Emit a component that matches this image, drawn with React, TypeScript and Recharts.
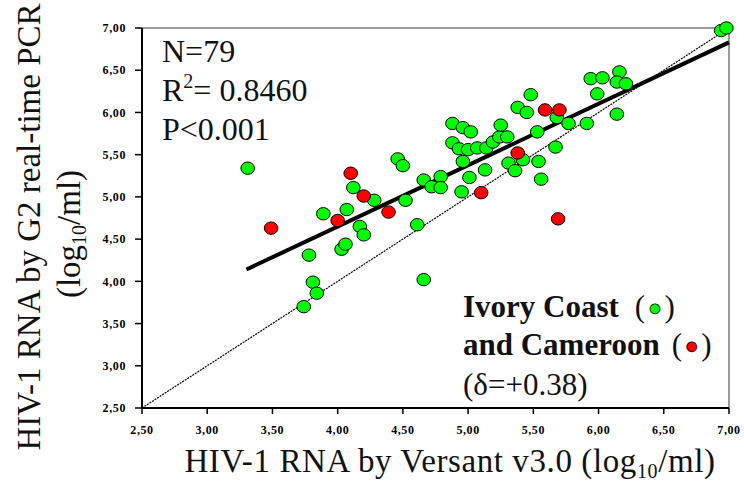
import { ReferenceLine, Scatter, ScatterChart, XAxis, YAxis } from 'recharts';

// Versant v3.0 (x) vs G2 real-time PCR (y), log10 copies/ml
const ivoryVersant = [
  3.31, 3.74, 3.81, 3.84, 3.78, 3.89, 4.03, 4.06, 4.07, 4.12, 4.17, 4.2, 4.28, 4.46, 4.5, 4.52, 4.61, 4.66, 4.66, 4.72,
  4.79, 4.79, 4.88, 4.96, 5.02, 4.88, 4.93, 5.0, 5.07, 5.14, 5.19, 5.24, 5.3, 5.25, 4.95, 5.01, 4.96, 5.13, 5.31, 5.36,
  5.42, 5.54, 5.56, 5.38, 5.45, 5.48, 5.53, 5.68, 5.67, 5.77, 5.91, 5.94, 6.03, 5.99, 6.16, 6.14, 6.21, 6.14, 6.94, 6.98,
];
const ivoryG2 = [
  5.34, 3.7, 3.99, 3.86, 4.31, 4.8, 4.38, 4.44, 4.85, 5.11, 4.65, 4.55, 4.96, 5.45, 5.37, 4.96, 4.67, 5.2, 4.02, 5.12,
  5.24, 5.11, 5.87, 5.82, 5.77, 5.64, 5.57, 5.56, 5.58, 5.58, 5.65, 5.71, 5.71, 5.85, 5.06, 5.23, 5.42, 5.32, 5.4, 5.31,
  5.44, 5.42, 5.21, 6.06, 6.0, 6.21, 5.77, 5.94, 5.59, 5.87, 5.87, 6.4, 6.41, 6.22, 6.48, 6.36, 6.34, 5.98, 6.97, 7.0,
];
const cameroonVersant = [3.49, 4.0, 4.1, 4.2, 4.39, 5.1, 5.38, 5.59, 5.7, 5.69];
const cameroonG2 = [4.63, 4.72, 5.28, 5.01, 4.82, 5.05, 5.52, 6.03, 6.03, 4.74];

// regression line and line of identity
const fitX = [3.3, 7.0];
const fitY = [4.14, 6.83];
const identity = [2.5, 7.0];

const ticks = [2.5, 3, 3.5, 4, 4.5, 5, 5.5, 6, 6.5, 7];
const tickLabels = ['2,50', '3,00', '3,50', '4,00', '4,50', '5,00', '5,50', '6,00', '6,50', '7,00'];

const ivory = ivoryVersant.map((x, i) => ({ x, y: ivoryG2[i] }));
const cameroon = cameroonVersant.map((x, i) => ({ x, y: cameroonG2[i] }));

const fmt = (v: number) => tickLabels[ticks.indexOf(v)] ?? String(v);
const tickStyle = {
  fill: '#000',
  fontSize: 12,
  fontWeight: 'bold',
  fontFamily: 'Liberation Serif',
  letterSpacing: 0.6,
};

const dot = (color: string) => (p: any) => (
  <ellipse cx={p.cx} cy={p.cy} rx={6.8} ry={6.2} fill={color} stroke="#000" strokeWidth={1} />
);

const serif = 'Liberation Serif, Times New Roman, serif';

export default function App() {
  return (
    <div style={{ position: 'absolute', left: 0, top: 0, width: 744, height: 485, background: '#fff' }}>
      <ScatterChart width={744} height={485} margin={{ top: 28, right: 15, left: 0, bottom: 0 }}>
        <XAxis
          type="number"
          dataKey="x"
          domain={[2.5, 7]}
          ticks={ticks}
          tickFormatter={fmt}
          height={77}
          tickSize={6}
          tickMargin={11}
          tick={tickStyle}
          axisLine={{ stroke: '#000', strokeWidth: 2 }}
          tickLine={{ stroke: '#000', strokeWidth: 1.5 }}
        />
        <YAxis
          type="number"
          dataKey="y"
          domain={[2.5, 7]}
          ticks={ticks}
          tickFormatter={fmt}
          width={142}
          tickSize={7}
          tickMargin={9}
          tick={tickStyle}
          axisLine={{ stroke: '#000', strokeWidth: 2 }}
          tickLine={{ stroke: '#000', strokeWidth: 1.5 }}
        />
        <ReferenceLine y={7} stroke="#9a9a9a" strokeWidth={2} />
        <ReferenceLine x={7} stroke="#9a9a9a" strokeWidth={2} />
        <Scatter data={ivory} shape={dot('#00ff00')} isAnimationActive={false} />
        <Scatter data={cameroon} shape={dot('#ff0000')} isAnimationActive={false} />
        <ReferenceLine
          segment={[{ x: identity[0], y: identity[0] }, { x: identity[1], y: identity[1] }]}
          stroke="#000"
          strokeWidth={1.2}
          strokeDasharray="2 1"
        />
        <ReferenceLine
          segment={[{ x: fitX[0], y: fitY[0] }, { x: fitX[1], y: fitY[1] }]}
          stroke="#000"
          strokeWidth={4}
        />
      </ScatterChart>
      <svg
        width={744}
        height={485}
        style={{ position: 'absolute', left: 0, top: 0, pointerEvents: 'none' }}
        fontFamily={serif}
        fill="#111"
      >
        <text x={162} y={62} fontSize={32}>N=79</text>
        <text x={162} y={101} fontSize={32}>
          R<tspan dy={-13} fontSize={20}>2</tspan>
          <tspan dy={13}>= 0.8460</tspan>
        </text>
        <text x={162} y={140} fontSize={32}>P&lt;0.001</text>

        <text x={463} y={317} fontSize={31} fontWeight="bold">
          Ivory Coast
          <tspan dx={16} fontWeight="normal">(</tspan>
          <tspan dx={4} dy={-5} fontSize={13} fill="#00ff00" stroke="#000" strokeWidth={0.8} fontFamily="DejaVu Sans">●</tspan>
          <tspan dx={4} dy={5} fontWeight="normal">)</tspan>
        </text>
        <text x={463} y={355} fontSize={31} fontWeight="bold">
          and Cameroon
          <tspan dx={12} fontWeight="normal">(</tspan>
          <tspan dx={4} dy={-5} fontSize={13} fill="#ff0000" stroke="#000" strokeWidth={0.8} fontFamily="DejaVu Sans">●</tspan>
          <tspan dx={4} dy={5} fontWeight="normal">)</tspan>
        </text>
        <text x={463} y={395} fontSize={31}>(δ=+0.38)</text>

        <text x={450} y={472} fontSize={33} textAnchor="middle" letterSpacing={0.6}>
          HIV-1 RNA by Versant v3.0 (log<tspan dy={6} fontSize={20}>10</tspan>
          <tspan dy={-6}>/ml)</tspan>
        </text>
        <text transform="translate(40,227) rotate(-90)" fontSize={33} textAnchor="middle">
          HIV-1 RNA by G2 real-time PCR
        </text>
        <text transform="translate(80,234) rotate(-90)" fontSize={33} textAnchor="middle">
          (log<tspan dy={6} fontSize={20}>10</tspan>
          <tspan dy={-6}>/ml)</tspan>
        </text>
      </svg>
    </div>
  );
}
